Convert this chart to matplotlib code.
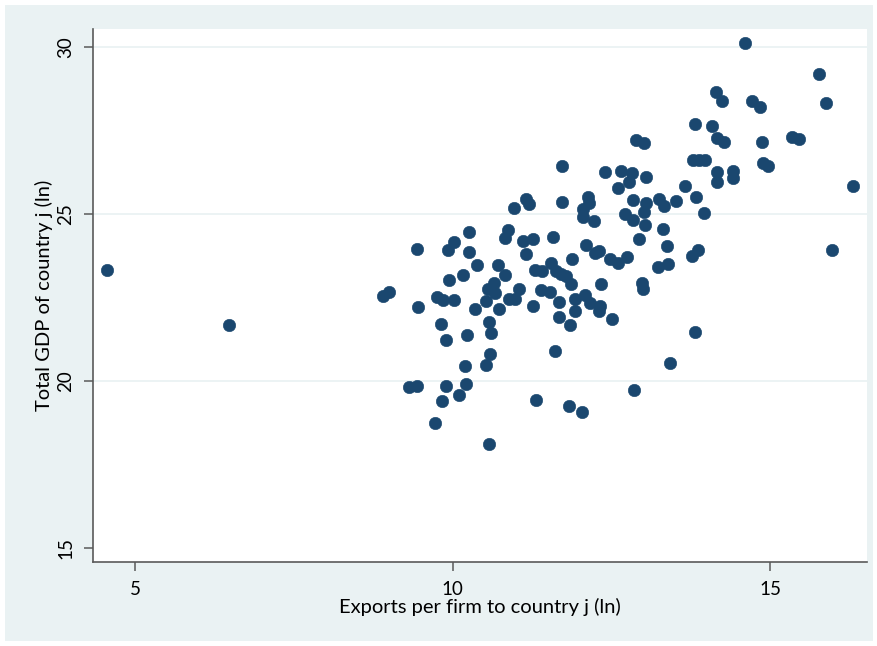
import numpy as np
import matplotlib.pyplot as plt
from matplotlib.patches import Rectangle

# exports per firm (ln) and destination GDP (ln), one entry per country
export_ln = [4.56, 6.48,
             9.44, 10.26, 10.02, 9.93, 10.26, 10.87, 10.82, 11.11, 11.26, 11.15,
             10.38, 10.72, 10.17, 10.83, 9.95, 11.30, 11.41, 8.90, 9.00, 9.46,
             9.75, 9.85, 10.02, 10.65, 10.56, 10.67, 11.04, 10.89, 10.98, 10.53,
             10.36, 10.73, 11.26, 11.39, 9.82, 10.57, 10.60, 9.90, 10.22, 10.59,
             10.53, 10.20, 9.32, 9.44, 9.90, 10.21, 10.10, 9.83, 11.31, 9.72, 10.57,
             10.97, 11.15, 11.20,
             12.89, 13.02, 11.73, 12.40, 12.65, 12.83, 13.05, 12.77, 12.61, 12.14,
             12.15, 11.73, 12.84, 13.04, 13.25, 13.33, 13.52, 12.06, 12.06, 12.22,
             12.71, 12.84, 13.02, 13.03, 13.32, 11.58, 12.94, 13.37, 12.10, 12.24,
             12.31, 11.88, 12.48, 12.61, 12.75, 13.24, 13.39, 13.77, 13.87, 11.55,
             11.63, 11.71, 11.79, 11.87, 11.54, 11.67, 11.92, 12.08, 12.17, 12.32,
             12.30, 11.93, 11.67, 11.85, 12.51, 12.34, 12.98, 13.00, 13.82, 11.61,
             13.43, 12.85, 11.83, 12.04,
             14.60, 15.77, 15.88, 14.14, 14.24, 14.71, 14.84, 13.81, 14.09, 14.16,
             14.28, 14.87, 15.34, 15.45, 13.79, 13.88, 13.98, 14.16, 14.17, 14.42,
             14.42, 14.89, 14.96, 13.66, 13.83, 16.30, 13.96, 15.98]
gdp_ln = [23.31, 21.67,
          23.94, 24.44, 24.14, 23.91, 23.86, 24.51, 24.26, 24.19, 24.23, 23.80,
          23.47, 23.47, 23.17, 23.17, 23.01, 23.31, 23.29, 22.54, 22.65, 22.21,
          22.51, 22.40, 22.40, 22.92, 22.74, 22.62, 22.75, 22.44, 22.44, 22.37,
          22.14, 22.14, 22.24, 22.72, 21.69, 21.76, 21.44, 21.21, 21.37, 20.80,
          20.48, 20.45, 19.82, 19.84, 19.84, 19.91, 19.58, 19.39, 19.42, 18.72, 18.11,
          25.16, 25.44, 25.28,
          27.21, 27.11, 26.42, 26.26, 26.28, 26.23, 26.10, 25.94, 25.77, 25.51,
          25.32, 25.35, 25.41, 25.33, 25.43, 25.23, 25.38, 25.13, 24.90, 24.77,
          24.98, 24.81, 25.06, 24.65, 24.55, 24.30, 24.23, 24.04, 24.06, 23.81,
          23.87, 23.64, 23.64, 23.51, 23.70, 23.40, 23.49, 23.72, 23.91, 23.52,
          23.28, 23.19, 23.13, 22.90, 22.66, 22.36, 22.43, 22.56, 22.31, 22.23,
          22.10, 22.08, 21.91, 21.67, 21.86, 22.90, 22.93, 22.74, 21.46, 20.88,
          20.54, 19.71, 19.23, 19.05,
          30.10, 29.17, 28.31, 28.64, 28.38, 28.37, 28.19, 27.68, 27.62, 27.27,
          27.15, 27.15, 27.29, 27.25, 26.61, 26.61, 26.61, 26.26, 25.95, 26.29,
          26.08, 26.52, 26.44, 25.83, 25.51, 25.84, 25.01, 23.91]

x_ticks = [5, 10, 15]
y_ticks = [15, 20, 25, 30]
y_grid = [20, 25, 30]

navy = '#1a476f'
bluish = '#eaf2f3'
axcol = '#5a5a5a'

plt.rcParams['font.family'] = ['Lato', 'DejaVu Sans']

fig = plt.figure(figsize=(8.78, 6.46), dpi=100, facecolor='white')
# graph region, behind the plot area
fig.patches.append(Rectangle((5/878, 5/646), 868/878, 636/646, transform=fig.transFigure,
                             facecolor=bluish, edgecolor='none', zorder=-10))

ax = fig.add_axes([93.3/878, 1 - 562/646, (867.3 - 93.3)/878, (562 - 29.3)/646])
ax.set_zorder(1)
ax.set_facecolor('white')

for g in y_grid:
    ax.axhline(g, color=bluish, linewidth=1.3, zorder=1)

ax.scatter(export_ln, gdp_ln, s=80, color=navy, edgecolors=navy, linewidths=0.4, zorder=3)

ax.set_xlim(4.343, 16.53)
ax.set_ylim(14.57, 30.52)
ax.set_xticks(x_ticks)
ax.set_yticks(y_ticks)
ax.set_yticklabels([str(t) for t in y_ticks], rotation=90, va='center')

for s in ['top', 'right']:
    ax.spines[s].set_visible(False)
for s in ['left', 'bottom']:
    ax.spines[s].set_color(axcol)
    ax.spines[s].set_linewidth(1.2)

ax.tick_params(axis='both', length=6.5, width=1.1, color=axcol, labelsize=13.5, pad=7)

ax.set_xlabel('Exports per firm to country j (ln)', fontsize=14.5, labelpad=0)
ax.set_ylabel('Total GDP of country j (ln)', fontsize=14.5, labelpad=3)

plt.savefig('out.png', dpi=100, facecolor=fig.get_facecolor())
